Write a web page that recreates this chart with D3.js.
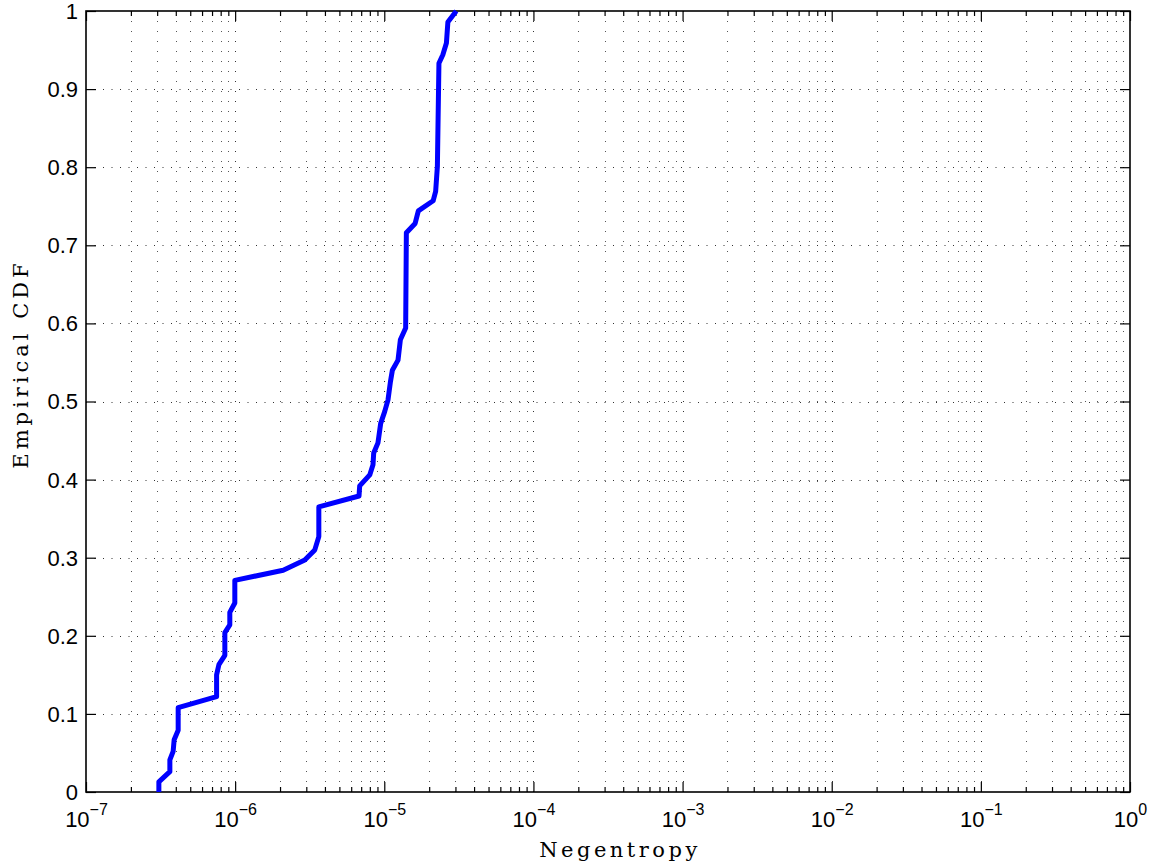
<!DOCTYPE html>
<html>
<head>
<meta charset="utf-8">
<script src="https://cdn.jsdelivr.net/npm/d3@7"></script>
<style>
  body { margin: 0; background: #fff; }
  svg { display: block; }
</style>
</head>
<body>
<svg id="chart" width="1158" height="867"></svg>
<script>
// ---- data ----
const negentropy = [3.08e-7, 3.08e-7, 3.65e-7, 3.65e-7, 3.84e-7, 3.90e-7, 4.15e-7, 4.15e-7,
  7.51e-7, 7.51e-7, 7.78e-7, 8.53e-7, 8.53e-7, 9.21e-7, 9.21e-7, 9.95e-7, 9.95e-7,
  2.10e-6, 2.93e-6, 3.42e-6, 3.64e-6, 3.64e-6, 6.77e-6, 6.84e-6, 7.99e-6, 8.40e-6,
  8.49e-6, 9.07e-6, 9.46e-6, 1.006e-5, 1.059e-5, 1.099e-5, 1.133e-5, 1.236e-5, 1.282e-5,
  1.391e-5, 1.406e-5, 1.61e-5, 1.692e-5, 2.126e-5, 2.21e-5, 2.27e-5, 2.325e-5, 2.47e-5,
  2.61e-5, 2.67e-5, 3.04e-5];
const cdf = [0.0, 0.013, 0.026, 0.041, 0.052, 0.067, 0.079, 0.108,
  0.122, 0.150, 0.163, 0.175, 0.204, 0.214, 0.230, 0.242, 0.271,
  0.284, 0.297, 0.310, 0.327, 0.365, 0.379, 0.392, 0.406, 0.419,
  0.434, 0.447, 0.472, 0.487, 0.502, 0.525, 0.540, 0.553, 0.579,
  0.594, 0.716, 0.728, 0.744, 0.757, 0.769, 0.801, 0.933, 0.944,
  0.959, 0.986, 1.0];
const xDomain = [1e-7, 1e0];
const yDomain = [0, 1];
const xTickExps = [-7, -6, -5, -4, -3, -2, -1, 0];
const yTickValues = [0, 0.1, 0.2, 0.3, 0.4, 0.5, 0.6, 0.7, 0.8, 0.9, 1];
const xLabel = "Negentropy";
const yLabel = "Empirical CDF";

// ---- layout ----
const svg = d3.select("#chart");
const L = 86, R = 1130, T = 11, B = 792;
const x = d3.scaleLog().domain(xDomain).range([L, R]);
const y = d3.scaleLinear().domain(yDomain).range([B, T]);

const majorX = xTickExps.map(e => Math.pow(10, e));
const minorX = [];
for (let e = -7; e < 0; e++) for (let k = 2; k <= 9; k++) minorX.push(k * Math.pow(10, e));

const grid = svg.append("g").attr("stroke", "#333").attr("stroke-width", 1).attr("fill", "none");
// minor vertical grid
grid.selectAll("line.vmin").data(minorX).join("line")
  .attr("x1", d => Math.round(x(d)) + 0.5).attr("x2", d => Math.round(x(d)) + 0.5)
  .attr("y1", B).attr("y2", T)
  .attr("stroke-dasharray", "1,9").attr("stroke", "#555");
// major vertical grid
grid.selectAll("line.vmaj").data(majorX.slice(1, -1)).join("line")
  .attr("x1", d => Math.round(x(d)) + 0.5).attr("x2", d => Math.round(x(d)) + 0.5)
  .attr("y1", B).attr("y2", T)
  .attr("stroke-dasharray", "1,9");
// horizontal grid
grid.selectAll("line.h").data(yTickValues.slice(1, -1)).join("line")
  .attr("x1", L).attr("x2", R)
  .attr("y1", d => Math.round(y(d)) + 0.5).attr("y2", d => Math.round(y(d)) + 0.5)
  .attr("stroke-dasharray", "1,7.5");

// ---- axes (ticks inward, on all sides) ----
const fontSans = "'Liberation Sans', Arial, Helvetica, sans-serif";
const axB = d3.axisBottom(x).tickValues(majorX).tickSize(-10).tickFormat("");
const axT = d3.axisTop(x).tickValues(majorX).tickSize(-10).tickFormat("");
const axBm = d3.axisBottom(x).tickValues(minorX).tickSize(-5).tickFormat("");
const axTm = d3.axisTop(x).tickValues(minorX).tickSize(-5).tickFormat("");
const axL = d3.axisLeft(y).tickValues(yTickValues).tickSize(-10).tickFormat("");
const axR = d3.axisRight(y).tickValues(yTickValues).tickSize(-10).tickFormat("");

function style(g) {
  g.select(".domain").remove();
  g.selectAll("line").attr("stroke", "#000").attr("stroke-width", 1.2);
}
svg.append("g").attr("transform", `translate(0,${B})`).call(axB).call(style);
svg.append("g").attr("transform", `translate(0,${B})`).call(axBm).call(style);
svg.append("g").attr("transform", `translate(0,${T})`).call(axT).call(style);
svg.append("g").attr("transform", `translate(0,${T})`).call(axTm).call(style);
svg.append("g").attr("transform", `translate(${L},0)`).call(axL).call(style);
svg.append("g").attr("transform", `translate(${R},0)`).call(axR).call(style);

// box
svg.append("rect").attr("x", L).attr("y", T).attr("width", R - L).attr("height", B - T)
  .attr("fill", "none").attr("stroke", "#000").attr("stroke-width", 1.6);

// ---- curve ----
const pts = negentropy.map((v, i) => [v, cdf[i]]);
svg.append("path").datum(pts)
  .attr("fill", "none").attr("stroke", "#0000ff").attr("stroke-width", 5)
  .attr("stroke-linejoin", "round")
  .attr("d", d3.line().x(d => x(d[0])).y(d => y(d[1])));

// ---- tick labels ----
const xl = svg.append("g").attr("font-family", fontSans).attr("fill", "#000");
xTickExps.forEach(e => {
  const t = xl.append("text").attr("x", x(Math.pow(10, e)) + 0.5).attr("y", 827)
    .attr("text-anchor", "middle").attr("font-size", 22);
  t.append("tspan").text("10");
  t.append("tspan").attr("dy", -12).attr("font-size", 16)
    .text(e === 0 ? "0" : "\u2212" + Math.abs(e));
});
svg.append("g").attr("font-family", fontSans).selectAll("text").data(yTickValues).join("text")
  .attr("x", 78).attr("y", d => y(d)).attr("dy", "0.36em")
  .attr("text-anchor", "end").attr("font-size", 22)
  .text(d => d === 0 ? "0" : d === 1 ? "1" : d3.format(".1f")(d));

// ---- axis labels ----
const fontSerif = "'DejaVu Serif', 'Liberation Serif', serif";
svg.append("text").attr("x", 620).attr("y", 857)
  .attr("text-anchor", "middle").attr("font-family", fontSerif).attr("font-size", 21)
  .attr("letter-spacing", 3.5).text(xLabel);
svg.append("text").attr("transform", "translate(28,364) rotate(-90)")
  .attr("text-anchor", "middle").attr("font-family", fontSerif).attr("font-size", 21)
  .attr("letter-spacing", 4).text(yLabel);
</script>
</body>
</html>
